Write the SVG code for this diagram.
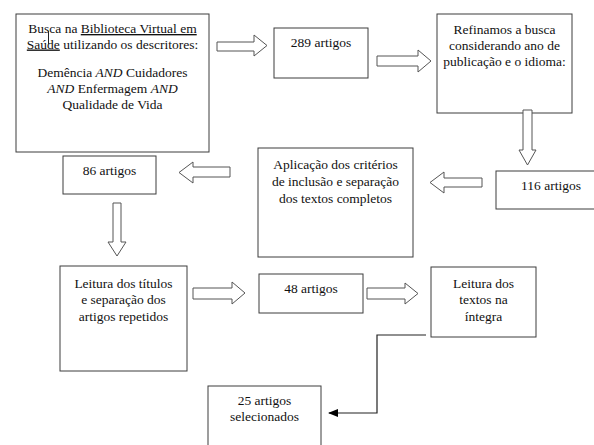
<svg xmlns="http://www.w3.org/2000/svg" width="594" height="445" viewBox="0 0 594 445">
<style>
.box{fill:#fff;stroke:#3c3c3c;stroke-width:1}
.blk{fill:#fff;stroke:#555;stroke-width:1;stroke-linejoin:miter}
.t{font-family:"Liberation Serif","Times New Roman",serif;font-size:13.5px;fill:#111;text-anchor:middle}
.u{text-decoration:underline}
.i{font-style:italic}
.ln{fill:none;stroke:#222;stroke-width:1.2}
</style>
<defs>
<marker id="ah" markerWidth="10" markerHeight="8" refX="9" refY="4" orient="auto" markerUnits="userSpaceOnUse">
<path d="M0,0 L10,4 L0,8 Z" fill="#000"/>
</marker>
</defs>
<rect width="594" height="445" fill="#fff"/>
<g id="n1">
<rect class="box" x="16" y="14" width="193" height="138"/>
<text class="t" x="112.5" y="33">Busca na <tspan class="u">Biblioteca Virtual em</tspan></text>
<text class="t" x="112.5" y="48.5"><tspan class="u">Saúde</tspan> utilizando os descritores:</text>
<line x1="48.5" y1="31" x2="48.5" y2="44" stroke="#222" stroke-width="1"/>
<text class="t" x="112.5" y="77">Demência <tspan class="i">AND</tspan> Cuidadores</text>
<text class="t" x="112.5" y="93"><tspan class="i">AND</tspan> Enfermagem <tspan class="i">AND</tspan></text>
<text class="t" x="112.5" y="109">Qualidade de Vida</text>
</g>
<g id="n2">
<rect class="box" x="274" y="28" width="94" height="50"/>
<text class="t" x="321" y="46.5">289 artigos</text>
</g>
<g id="n3">
<rect class="box" x="437" y="14" width="135" height="99"/>
<text class="t" x="504.5" y="33.5">Refinamos a busca</text>
<text class="t" x="504.5" y="49.5">considerando ano de</text>
<text class="t" x="504.5" y="65.5">publicação e o idioma:</text>
</g>
<g id="n4">
<rect class="box" x="496" y="171" width="110" height="38"/>
<text class="t" x="551" y="189.5">116 artigos</text>
</g>
<g id="n5">
<rect class="box" x="258" y="148" width="155" height="109"/>
<text class="t" x="335.5" y="169">Aplicação dos critérios</text>
<text class="t" x="335.5" y="186">de inclusão e separação</text>
<text class="t" x="335.5" y="203">dos textos completos</text>
</g>
<g id="n6">
<rect class="box" x="63" y="156" width="93" height="38"/>
<text class="t" x="109.5" y="174.5">86 artigos</text>
</g>
<g id="n7">
<rect class="box" x="60" y="266" width="127" height="105"/>
<text class="t" x="123.5" y="287.5">Leitura dos títulos</text>
<text class="t" x="123.5" y="304">e separação dos</text>
<text class="t" x="123.5" y="321">artigos repetidos</text>
</g>
<g id="n8">
<rect class="box" x="259" y="274" width="104" height="39"/>
<text class="t" x="311" y="292.5">48 artigos</text>
</g>
<g id="n9">
<rect class="box" x="431" y="267" width="105" height="70"/>
<text class="t" x="483.5" y="287.5">Leitura dos</text>
<text class="t" x="483.5" y="304">textos na</text>
<text class="t" x="483.5" y="321">íntegra</text>
</g>
<g id="n10">
<rect class="box" x="208" y="386" width="113" height="70"/>
<text class="t" x="264.5" y="405">25 artigos</text>
<text class="t" x="264.5" y="421">selecionados</text>
</g>
<g id="connectors">
<polygon class="blk" points="217,42 254,42 254,35 267,45.5 254,56 254,51 217,51"/>
<polygon class="blk" points="377,56 418,56 418,50 431,61 418,72 418,66 377,66"/>
<polygon class="blk" points="523,110 532,110 532,150 536,150 527.5,165 519,150 523,150"/>
<polygon class="blk" points="482,178 444,178 444,172 430,182.5 444,193 444,187 482,187"/>
<polygon class="blk" points="230,167 193,167 193,162 179,172.5 193,183 193,177 230,177"/>
<polygon class="blk" points="113,203 121,203 121,242 126,242 117,256 108,242 113,242"/>
<polygon class="blk" points="193,288 232,288 232,282 245,293 232,304 232,299 193,299"/>
<polygon class="blk" points="367,288 405,288 405,283 418,293.5 405,304 405,299 367,299"/>
<polyline class="ln" points="426,335 377,335 377,413 329,413" marker-end="url(#ah)"/>
</g>
</svg>
